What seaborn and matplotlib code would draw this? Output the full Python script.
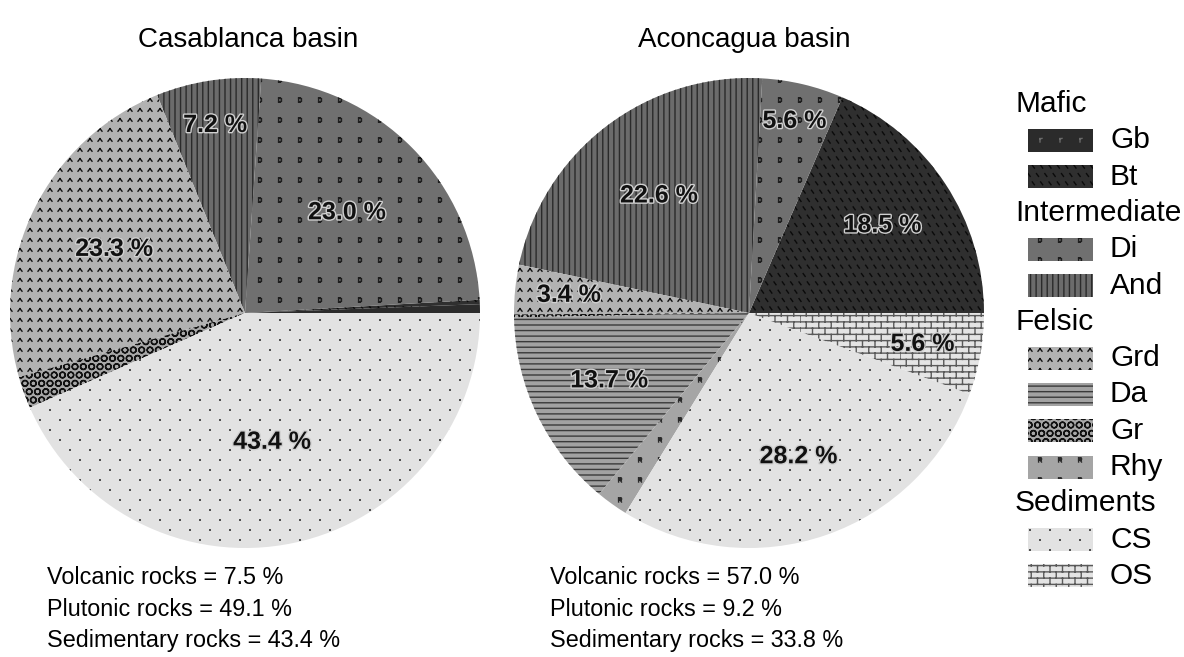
import warnings
warnings.filterwarnings("ignore")
import numpy as np
import matplotlib
matplotlib.use("Agg")
import matplotlib.pyplot as plt
import seaborn as sns
from matplotlib import hatch as mhatch
from matplotlib.path import Path
from matplotlib.patches import Rectangle
import matplotlib.patheffects as pe

# ---------------- data ----------------
legend_groups = ["Mafic", "Intermediate", "Felsic", "Sediments"]
legend_members = [["Gb", "Bt"], ["Di", "And"], ["Grd", "Da", "Gr", "Rhy"], ["CS", "OS"]]

casablanca_title = "Casablanca basin"
casablanca_types = ["Gb", "Bt", "Di", "And", "Grd", "Gr", "CS"]
casablanca_values = [0.6, 0.3, 23.0, 7.2, 23.3, 2.2, 43.4]
casablanca_summary = [7.5, 49.1, 43.4]

aconcagua_title = "Aconcagua basin"
aconcagua_types = ["Bt", "Di", "And", "Grd", "Gr", "Da", "Rhy", "CS", "OS"]
aconcagua_values = [18.5, 5.6, 22.6, 3.4, 0.2, 13.7, 2.2, 28.2, 5.6]
aconcagua_summary = [57.0, 9.2, 33.8]

summary_names = ["Volcanic rocks", "Plutonic rocks", "Sedimentary rocks"]

# ---------------- styles ----------------
face = {"Gb": "#2b2b2b", "Bt": "#2f2f2f", "Di": "#707070", "And": "#6b6b6b",
        "Grd": "#b2b2b2", "Da": "#a2a2a2", "Gr": "#a8a8a8", "Rhy": "#a5a5a5",
        "CS": "#e2e2e2", "OS": "#e4e4e4"}
hatch_of = {"Gb": "T", "Bt": "K", "Di": "D", "And": "|||", "Grd": "^",
            "Da": "---", "Gr": "OO", "Rhy": "R", "CS": "C", "OS": "B"}
hatch_col = {"Gb": "#6a6a6a", "Bt": "#0a0a0a", "Di": "#1e1e1e", "And": "#2a2a2a",
             "Grd": "#111111", "Da": "#3a3a3a", "Gr": "#111111", "Rhy": "#2a2a2a",
             "CS": "#111111", "OS": "#5a5a5a"}
# label radius per slice (None = no label)
casablanca_label_r = [None, None, 0.61, 0.81, 0.62, None, 0.56]
aconcagua_label_r = [0.68, 0.84, 0.63, 0.77, None, 0.66, None, 0.645, 0.75]


# ---------------- custom hatch marks ----------------
class MarkHatch(mhatch.HatchPatternBase):
    char = "?"
    nx = 5
    ny = 5
    stagger = False
    segs = []

    def __init__(self, hatch, density):
        pos = []
        if hatch is not None and hatch.count(self.char) > 0:
            for r in range(self.ny + 1):
                y = r / self.ny
                if self.stagger and r % 2 == 1:
                    xs = (np.arange(self.nx) + 0.5) / self.nx
                else:
                    xs = np.arange(self.nx + 1) / self.nx
                for x in xs:
                    pos.append((x, y))
        self.positions = pos
        self.num_vertices = len(pos) * len(self.segs) * 2

    def set_vertices_and_codes(self, vertices, codes):
        segs = np.asarray(self.segs, float) / 100.0
        i = 0
        for (x, y) in self.positions:
            for s in segs:
                vertices[i] = (x + s[0][0], y + s[0][1])
                codes[i] = Path.MOVETO
                vertices[i + 1] = (x + s[1][0], y + s[1][1])
                codes[i + 1] = Path.LINETO
                i += 2


def make_hatch(ch, nx, ny, stagger, segs):
    cls = type("Hatch_" + str(ord(ch)), (MarkHatch,),
               dict(char=ch, nx=nx, ny=ny, stagger=stagger, segs=segs))
    mhatch._hatch_types.append(cls)


make_hatch("^", 10, 10, False, [[(-2, -1.2), (0, 1.3)], [(0, 1.3), (2, -1.2)]])
make_hatch("D", 5, 5, False, [[(-1.4, -2), (-1.4, 2)], [(-1.4, 2), (0.4, 2)],
                              [(0.4, 2), (1.4, 1)], [(1.4, 1), (1.4, -1)],
                              [(1.4, -1), (0.4, -2)], [(0.4, -2), (-1.4, -2)]])
make_hatch("R", 5, 5, False, [[(-1.4, -2), (-1.4, 2)], [(-1.4, 2), (0.8, 2)],
                              [(0.8, 2), (1.4, 1.4)], [(1.4, 1.4), (1.4, 0.6)],
                              [(1.4, 0.6), (0.8, 0)], [(0.8, 0), (-1.4, 0)],
                              [(0.0, 0), (1.5, -2)]])
make_hatch("T", 5, 5, False, [[(0, -2), (0, 1.5)], [(0, 1.2), (2, 1.6)]])
make_hatch("K", 12, 12, True, [[(-1.0, 1.4), (1.0, -1.4)]])
make_hatch("C", 5, 10, True, [[(-0.3, 0), (0.3, 0)]])
make_hatch("B", 8, 16, True, [[(-6.25, -3.125), (6.25, -3.125)],
                              [(-6.25, -3.125), (-6.25, 3.125)]])

# ---------------- figure ----------------
sns.set_theme(style="white")
plt.rcParams["font.family"] = ["Liberation Sans", "DejaVu Sans"]
plt.rcParams["hatch.linewidth"] = 1.0
plt.rcParams["text.color"] = "black"

W, H = 1184, 657
fig = plt.figure(figsize=(W / 100, H / 100), dpi=100)
fig.patch.set_facecolor("white")


def fig_rect(x0, y0, x1, y1):
    return [x0 / W, 1 - y1 / H, (x1 - x0) / W, (y1 - y0) / H]


def draw_pie(rect, title, title_x, types, values, label_r, summary, text_x):
    ax = fig.add_axes(rect)
    wedges, _ = ax.pie(values, colors=[face[t] for t in types], startangle=0,
                       counterclock=True, radius=1,
                       wedgeprops=dict(linewidth=0))
    for w, t in zip(wedges, types):
        w.set_hatch(hatch_of[t])
        w.set_edgecolor(hatch_col[t])
        w.set_linewidth(0)
    for w, v, r in zip(wedges, values, label_r):
        if r is None:
            continue
        mid = np.deg2rad((w.theta1 + w.theta2) / 2)
        ax.text(r * np.cos(mid), r * np.sin(mid), f"{v:.1f} %", ha="center",
                va="center", fontsize=18, fontweight="bold", color="#111111",
                path_effects=[pe.withStroke(linewidth=2.0, foreground="#d0d0d0")])
    ax.set_xlim(-1, 1)
    ax.set_ylim(-1, 1)
    ax.set_aspect("equal")
    ax.axis("off")
    fig.text(title_x / W, 1 - 40 / H, title, ha="center", va="center",
             fontsize=20, color="black")
    for i, (name, val) in enumerate(zip(summary_names, summary)):
        fig.text(text_x / W, 1 - (578 + 31 * i) / H, f"{name} = {val:.1f} %",
                 ha="left", va="center", fontsize=16.8, color="black")


draw_pie(fig_rect(10, 78, 480, 548), casablanca_title, 248, casablanca_types,
         casablanca_values, casablanca_label_r, casablanca_summary, 47)
draw_pie(fig_rect(514, 78, 984, 548), aconcagua_title, 744, aconcagua_types,
         aconcagua_values, aconcagua_label_r, aconcagua_summary, 550)

# ---------------- legend ----------------
lax = fig.add_axes([0, 0, 1, 1])
lax.set_xlim(0, W)
lax.set_ylim(H, 0)
lax.axis("off")
lax.patch.set_alpha(0)
row = 0
y0, dy = 104, 36.3
for grp, members in zip(legend_groups, legend_members):
    yc = y0 + dy * row
    lax.text(1015, yc, grp, ha="left", va="center", fontsize=21.5, color="black")
    row += 1
    for m in members:
        yc = y0 + dy * row
        rect = Rectangle((1028, yc - 11.5), 65, 23, facecolor=face[m],
                         edgecolor=hatch_col[m], linewidth=0, hatch=hatch_of[m])
        lax.add_patch(rect)
        lax.text(1110, yc, m, ha="left", va="center", fontsize=21.5, color="black")
        row += 1

fig.savefig("out.png", dpi=100, facecolor="white")
